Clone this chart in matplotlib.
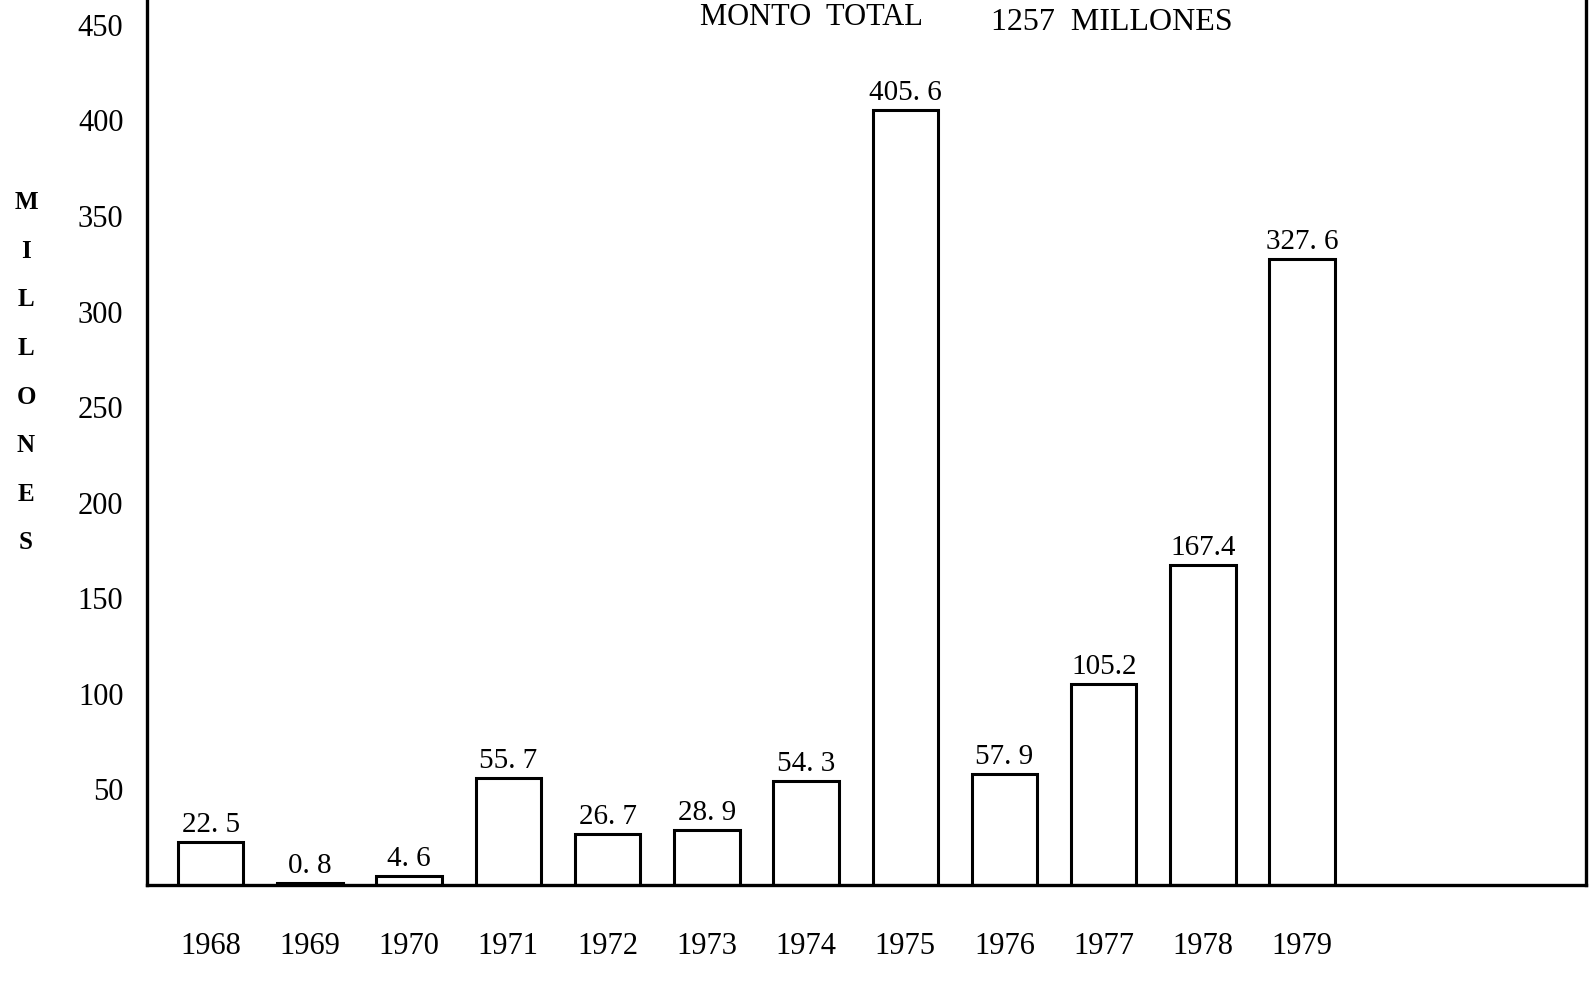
import matplotlib
matplotlib.use("Agg")
import matplotlib.pyplot as plt

years = ["1968", "1969", "1970", "1971", "1972", "1973",
         "1974", "1975", "1976", "1977", "1978", "1979"]
montos = [22.5, 0.8, 4.6, 55.7, 26.7, 28.9, 54.3, 405.6, 57.9, 105.2, 167.4, 327.6]
etiquetas = ["22. 5", "0. 8", "4. 6", "55. 7", "26. 7", "28. 9",
             "54. 3", "405. 6", "57. 9", "105.2", "167.4", "327. 6"]
yticks = [50, 100, 150, 200, 250, 300, 350, 400, 450]

plt.rcParams["font.family"] = ["Liberation Serif", "DejaVu Serif"]

fig = plt.figure(figsize=(15.9, 9.86), dpi=100)
ax = fig.add_axes([0.0925, 0.1025, 0.905, 0.8975])

x = range(len(years))
bars = ax.bar(x, montos, width=0.66, facecolor="white", edgecolor="black",
              linewidth=2.2)

for b, txt in zip(bars, etiquetas):
    ax.annotate(txt, (b.get_x() + b.get_width() / 2, b.get_height()),
                xytext=(0, 3), textcoords="offset points",
                ha="center", va="bottom", fontsize=21)

ax.set_xlim(-0.64, 13.86)
ax.set_ylim(0, 463)
ax.set_xticks(list(x))
ax.set_xticklabels(years, fontsize=22)
ax.set_yticks(yticks)
ax.set_yticklabels([str(t) for t in yticks], fontsize=22)
ax.tick_params(axis="x", length=0, pad=34)
ax.tick_params(axis="y", length=0, pad=17)

ax.spines["top"].set_visible(False)
for side in ["left", "bottom", "right"]:
    ax.spines[side].set_linewidth(2.4)

# vertical axis caption, one letter per line
for i, letra in enumerate("MILLONES"):
    fig.text(26 / 1590, 1 - (203 + i * 48.5) / 986, letra, ha="center",
             va="center", fontsize=18, fontweight="bold")

fig.text(811 / 1590, 1 - 3 / 986, "MONTO  TOTAL", ha="center", va="top",
         fontsize=22)
fig.text(1112 / 1590, 1 - 22 / 986, "1257  MILLONES", ha="center",
         va="center", fontsize=23)

fig.savefig("out.png", dpi=100, facecolor="white")
plt.close(fig)
